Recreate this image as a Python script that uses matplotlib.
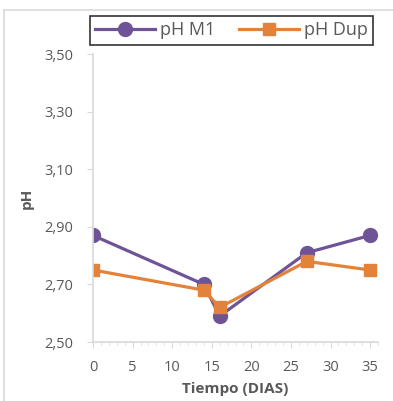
import matplotlib.pyplot as plt
from matplotlib.lines import Line2D
from matplotlib.ticker import MultipleLocator, FixedLocator, FuncFormatter

# Data
dias = [0, 14, 16, 27, 35]
ph_m1 = [2.87, 2.70, 2.59, 2.81, 2.87]
ph_dup = [2.75, 2.68, 2.62, 2.78, 2.75]
y_ticks = [2.50, 2.70, 2.90, 3.10, 3.30, 3.50]

plt.rcParams['font.family'] = ['Open Sans', 'DejaVu Sans']
gris = '#595959'

fig = plt.figure(figsize=(3.93, 4.01), dpi=100)
ax = fig.add_axes([93 / 393, 1 - 342 / 401, 285 / 393, 288 / 401])

ax.plot(dias, ph_m1, color='#6E5497', lw=2.3, marker='o', markersize=10, label='pH M1')
ax.plot(dias, ph_dup, color='#E3823A', lw=2.3, marker='s', markersize=8, label='pH Dup')

ax.set_xlim(0, 36)
ax.set_ylim(2.5, 3.5)
ax.xaxis.set_major_locator(MultipleLocator(5))
ax.xaxis.set_minor_locator(MultipleLocator(1))
ax.yaxis.set_major_locator(FixedLocator(y_ticks))
ax.yaxis.set_major_formatter(FuncFormatter(lambda v, p: f'{v:.2f}'.replace('.', ',')))

for s in ['top', 'right']:
    ax.spines[s].set_visible(False)
for s in ['left', 'bottom']:
    ax.spines[s].set_color('#d9d9d9')
    ax.spines[s].set_linewidth(1.2)
ax.tick_params(axis='both', which='both', colors='#d9d9d9', labelcolor=gris, labelsize=10.5)
ax.tick_params(axis='x', which='major', length=4, pad=9)
ax.tick_params(axis='x', which='minor', length=2)
ax.tick_params(axis='y', length=4, pad=10)

ax.set_xlabel('Tiempo (DIAS)', fontsize=11, fontweight='bold', color=gris, labelpad=5)
ax.set_ylabel('pH', fontsize=11, fontweight='bold', color=gris, labelpad=8)

leg = fig.legend(loc='upper left', bbox_to_anchor=(90 / 393, 1 - 16 / 401), ncol=2,
                 borderaxespad=0, fancybox=False, edgecolor='black', fontsize=13,
                 handlelength=3.3, columnspacing=1.3, handletextpad=0.3,
                 borderpad=0.3, labelcolor=gris)
leg.get_frame().set_linewidth(1.2)

# outer frame of the chart area
fig.add_artist(Line2D([4 / 393, 4 / 393], [0, 1 - 10 / 401], color='#d9d9d9', lw=1.2))
fig.add_artist(Line2D([4 / 393, 1], [1 - 10 / 401, 1 - 10 / 401], color='#d9d9d9', lw=1.2))

fig.savefig('out.png', dpi=100)
